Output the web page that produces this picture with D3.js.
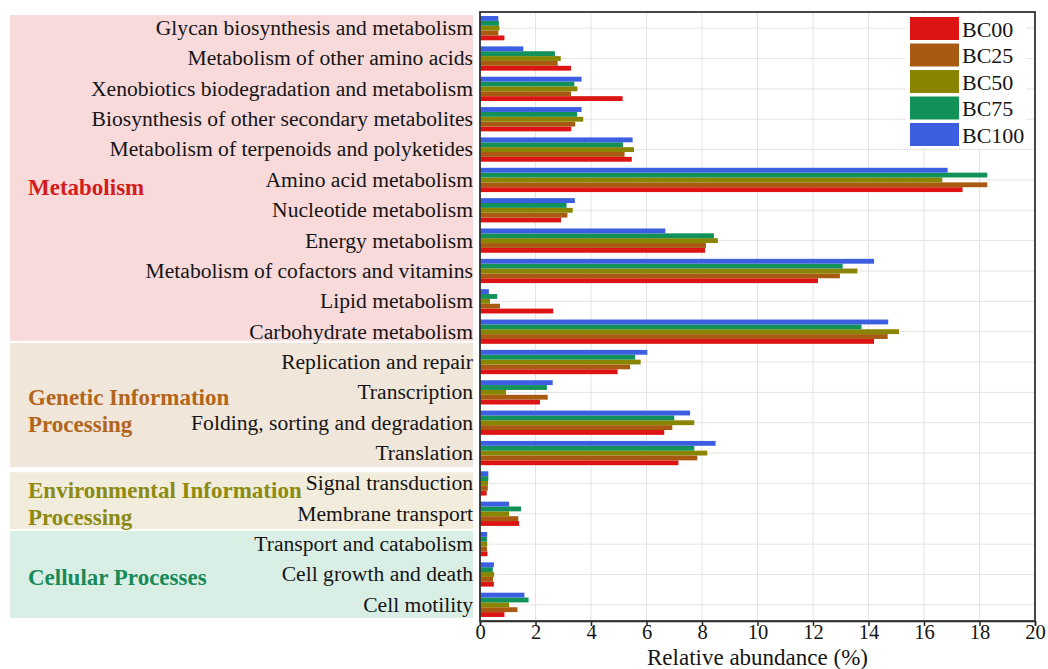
<!DOCTYPE html>
<html>
<head>
<meta charset="utf-8">
<script src="https://cdn.jsdelivr.net/npm/d3@7"></script>
<style>
  html, body { margin: 0; padding: 0; background: #fff; }
  svg { display: block; font-family: "Liberation Serif", "Times New Roman", serif; }
</style>
</head>
<body>
<svg id="chart" width="1048" height="669"></svg>
<script>
// KEGG level-2 pathways, top to bottom
const categories = [
  "Glycan biosynthesis and metabolism",
  "Metabolism of other amino acids",
  "Xenobiotics biodegradation and metabolism",
  "Biosynthesis of other secondary metabolites",
  "Metabolism of terpenoids and polyketides",
  "Amino acid metabolism",
  "Nucleotide metabolism",
  "Energy metabolism",
  "Metabolism of cofactors and vitamins",
  "Lipid metabolism",
  "Carbohydrate metabolism",
  "Replication and repair",
  "Transcription",
  "Folding, sorting and degradation",
  "Translation",
  "Signal transduction",
  "Membrane transport",
  "Transport and catabolism",
  "Cell growth and death",
  "Cell motility"
];

const seriesNames = ["BC00", "BC25", "BC50", "BC75", "BC100"];
const seriesColors = ["#dc1414", "#a85a12", "#8a8500", "#129159", "#3b5fe0"];

// Relative abundance (%) per treatment
const BC00  = [0.88, 3.28, 5.14, 3.29, 5.47, 17.39, 2.92, 8.11, 12.18, 2.64, 14.20, 4.96, 2.16, 6.64, 7.15, 0.24, 1.41, 0.27, 0.50, 0.88];
const BC25  = [0.66, 2.80, 3.28, 3.43, 5.21, 18.28, 3.15, 8.14, 12.97, 0.72, 14.69, 5.41, 2.44, 6.93, 7.83, 0.28, 1.38, 0.25, 0.47, 1.35];
const BC50  = [0.70, 2.91, 3.51, 3.72, 5.55, 16.66, 3.34, 8.57, 13.60, 0.36, 15.10, 5.79, 0.94, 7.72, 8.19, 0.29, 1.05, 0.26, 0.51, 1.05];
const BC75  = [0.68, 2.70, 3.40, 3.50, 5.15, 18.28, 3.12, 8.43, 13.07, 0.62, 13.75, 5.59, 2.41, 7.00, 7.72, 0.30, 1.48, 0.25, 0.46, 1.75];
const BC100 = [0.66, 1.56, 3.66, 3.66, 5.50, 16.85, 3.42, 6.68, 14.20, 0.32, 14.71, 6.03, 2.62, 7.57, 8.49, 0.30, 1.05, 0.26, 0.50, 1.60];

// Level-1 groups: label lines, first and last row index
const groupLabels = [["Metabolism"], ["Genetic Information", "Processing"], ["Environmental Information", "Processing"], ["Cellular Processes"]];
const groupFirst = [0, 11, 15, 17];
const groupLast  = [10, 14, 16, 19];
const groupFills = ["#f8dadb", "#f1e6da", "#f1ecdc", "#d9efe6"];
const groupText  = ["#d41c1c", "#b2651c", "#8c8a12", "#178a58"];

const xTicks = [0, 2, 4, 6, 8, 10, 12, 14, 16, 18, 20];

const seriesValues = [BC00, BC25, BC50, BC75, BC100];
const rows = categories.map((c, i) => ({
  name: c,
  values: seriesNames.map((s, k) => ({ key: s, value: seriesValues[k][i], color: seriesColors[k] }))
}));

const svg = d3.select("#chart");
const plotLeft = 480, plotRight = 1035, plotTop = 13, plotBottom = 620;
const serif = "Liberation Serif, Times New Roman, serif";

const x = d3.scaleLinear().domain([0, 20]).range([plotLeft, plotRight]);
const y = d3.scaleBand().domain(categories).range([plotTop, plotBottom]).paddingInner(0.2).paddingOuter(0.1);
// BC100 drawn on top of each group, BC00 at the bottom
const ySub = d3.scaleBand().domain(seriesNames.slice().reverse()).range([0, y.bandwidth()]);

// Group background panels (edges nudged around the first/last band of each group)
const panelTopPad = [-1, -7, 1, -1];
const panelBottomPad = [-3, 2, 3, 1];
groupFirst.forEach((f, g) => {
  const l = groupLast[g];
  const y0 = y(categories[f]) + panelTopPad[g];
  const y1 = y(categories[l]) + y.bandwidth() + panelBottomPad[g];
  svg.append("rect")
    .attr("x", 10).attr("y", y0)
    .attr("width", 463).attr("height", y1 - y0)
    .attr("fill", groupFills[g]);
});

// Group titles
const titleShift = [7, 3, 5, 2];
groupFirst.forEach((f, g) => {
  const l = groupLast[g];
  const mid = (y(categories[f]) + y(categories[l]) + y.bandwidth()) / 2 + titleShift[g];
  const lines = groupLabels[g];
  const lh = 27;
  const t = svg.append("text")
    .attr("font-weight", "bold")
    .attr("font-size", 23)
    .attr("fill", groupText[g]);
  lines.forEach((ln, j) => {
    t.append("tspan")
      .attr("x", 28)
      .attr("y", mid + (j - (lines.length - 1) / 2) * lh)
      .attr("dy", "0.35em")
      .text(ln);
  });
});

// Grid
const grid = svg.append("g").attr("stroke", "#e4e4e4").attr("stroke-width", 1);
xTicks.forEach(t => {
  grid.append("line").attr("x1", x(t)).attr("x2", x(t)).attr("y1", 12).attr("y2", 621);
});
categories.forEach(c => {
  const cy = y(c) + y.bandwidth() / 2;
  grid.append("line").attr("x1", plotLeft).attr("x2", plotRight).attr("y1", cy).attr("y2", cy);
});

// Bars
const groups = svg.append("g").selectAll("g").data(rows).join("g")
  .attr("transform", d => `translate(0,${y(d.name)})`);
groups.selectAll("rect").data(d => d.values).join("rect")
  .attr("x", x(0))
  .attr("y", d => ySub(d.key))
  .attr("width", d => x(d.value) - x(0))
  .attr("height", ySub.bandwidth())
  .attr("fill", d => d.color);

// Category labels
const yAxis = svg.append("g")
  .attr("transform", `translate(${plotLeft},0)`)
  .call(d3.axisLeft(y).tickSize(0).tickPadding(7));
yAxis.select(".domain").remove();
yAxis.selectAll("text")
  .attr("font-family", serif)
  .attr("font-size", 21.6)
  .attr("fill", "#151515");

// Bottom axis
const xAxis = svg.append("g")
  .attr("transform", `translate(0,621)`)
  .call(d3.axisBottom(x).tickValues(xTicks).tickSize(5).tickPadding(3).tickFormat(d3.format("d")));
xAxis.select(".domain").attr("stroke", "#222").attr("stroke-width", 1.5);
xAxis.selectAll(".tick line").attr("stroke", "#222").attr("stroke-width", 1.5);
xAxis.selectAll("text")
  .attr("font-family", serif)
  .attr("font-size", 20.5)
  .attr("dy", "0.49em")
  .attr("fill", "#151515");

// Plot frame
svg.append("rect")
  .attr("x", plotLeft).attr("y", 12)
  .attr("width", plotRight - plotLeft).attr("height", 621 - 12)
  .attr("fill", "none").attr("stroke", "#333").attr("stroke-width", 1.8);

// Axis title
svg.append("text")
  .attr("x", (plotLeft + plotRight) / 2).attr("y", 664.5)
  .attr("text-anchor", "middle")
  .attr("font-size", 23)
  .attr("fill", "#151515")
  .text("Relative abundance (%)");

// Legend
const legend = svg.append("g").attr("transform", "translate(910,17)");
legend.append("rect").attr("x", -4).attr("y", -3).attr("width", 120).attr("height", 134).attr("fill", "#fff");
seriesNames.forEach((s, k) => {
  const g = legend.append("g").attr("transform", `translate(0,${k * 26.5})`);
  g.append("rect").attr("width", 49).attr("height", 23).attr("fill", seriesColors[k]);
  g.append("text").attr("x", 52).attr("y", 12).attr("dy", "0.35em")
    .attr("font-size", 22).attr("fill", "#151515").text(s);
});
</script>
</body>
</html>
